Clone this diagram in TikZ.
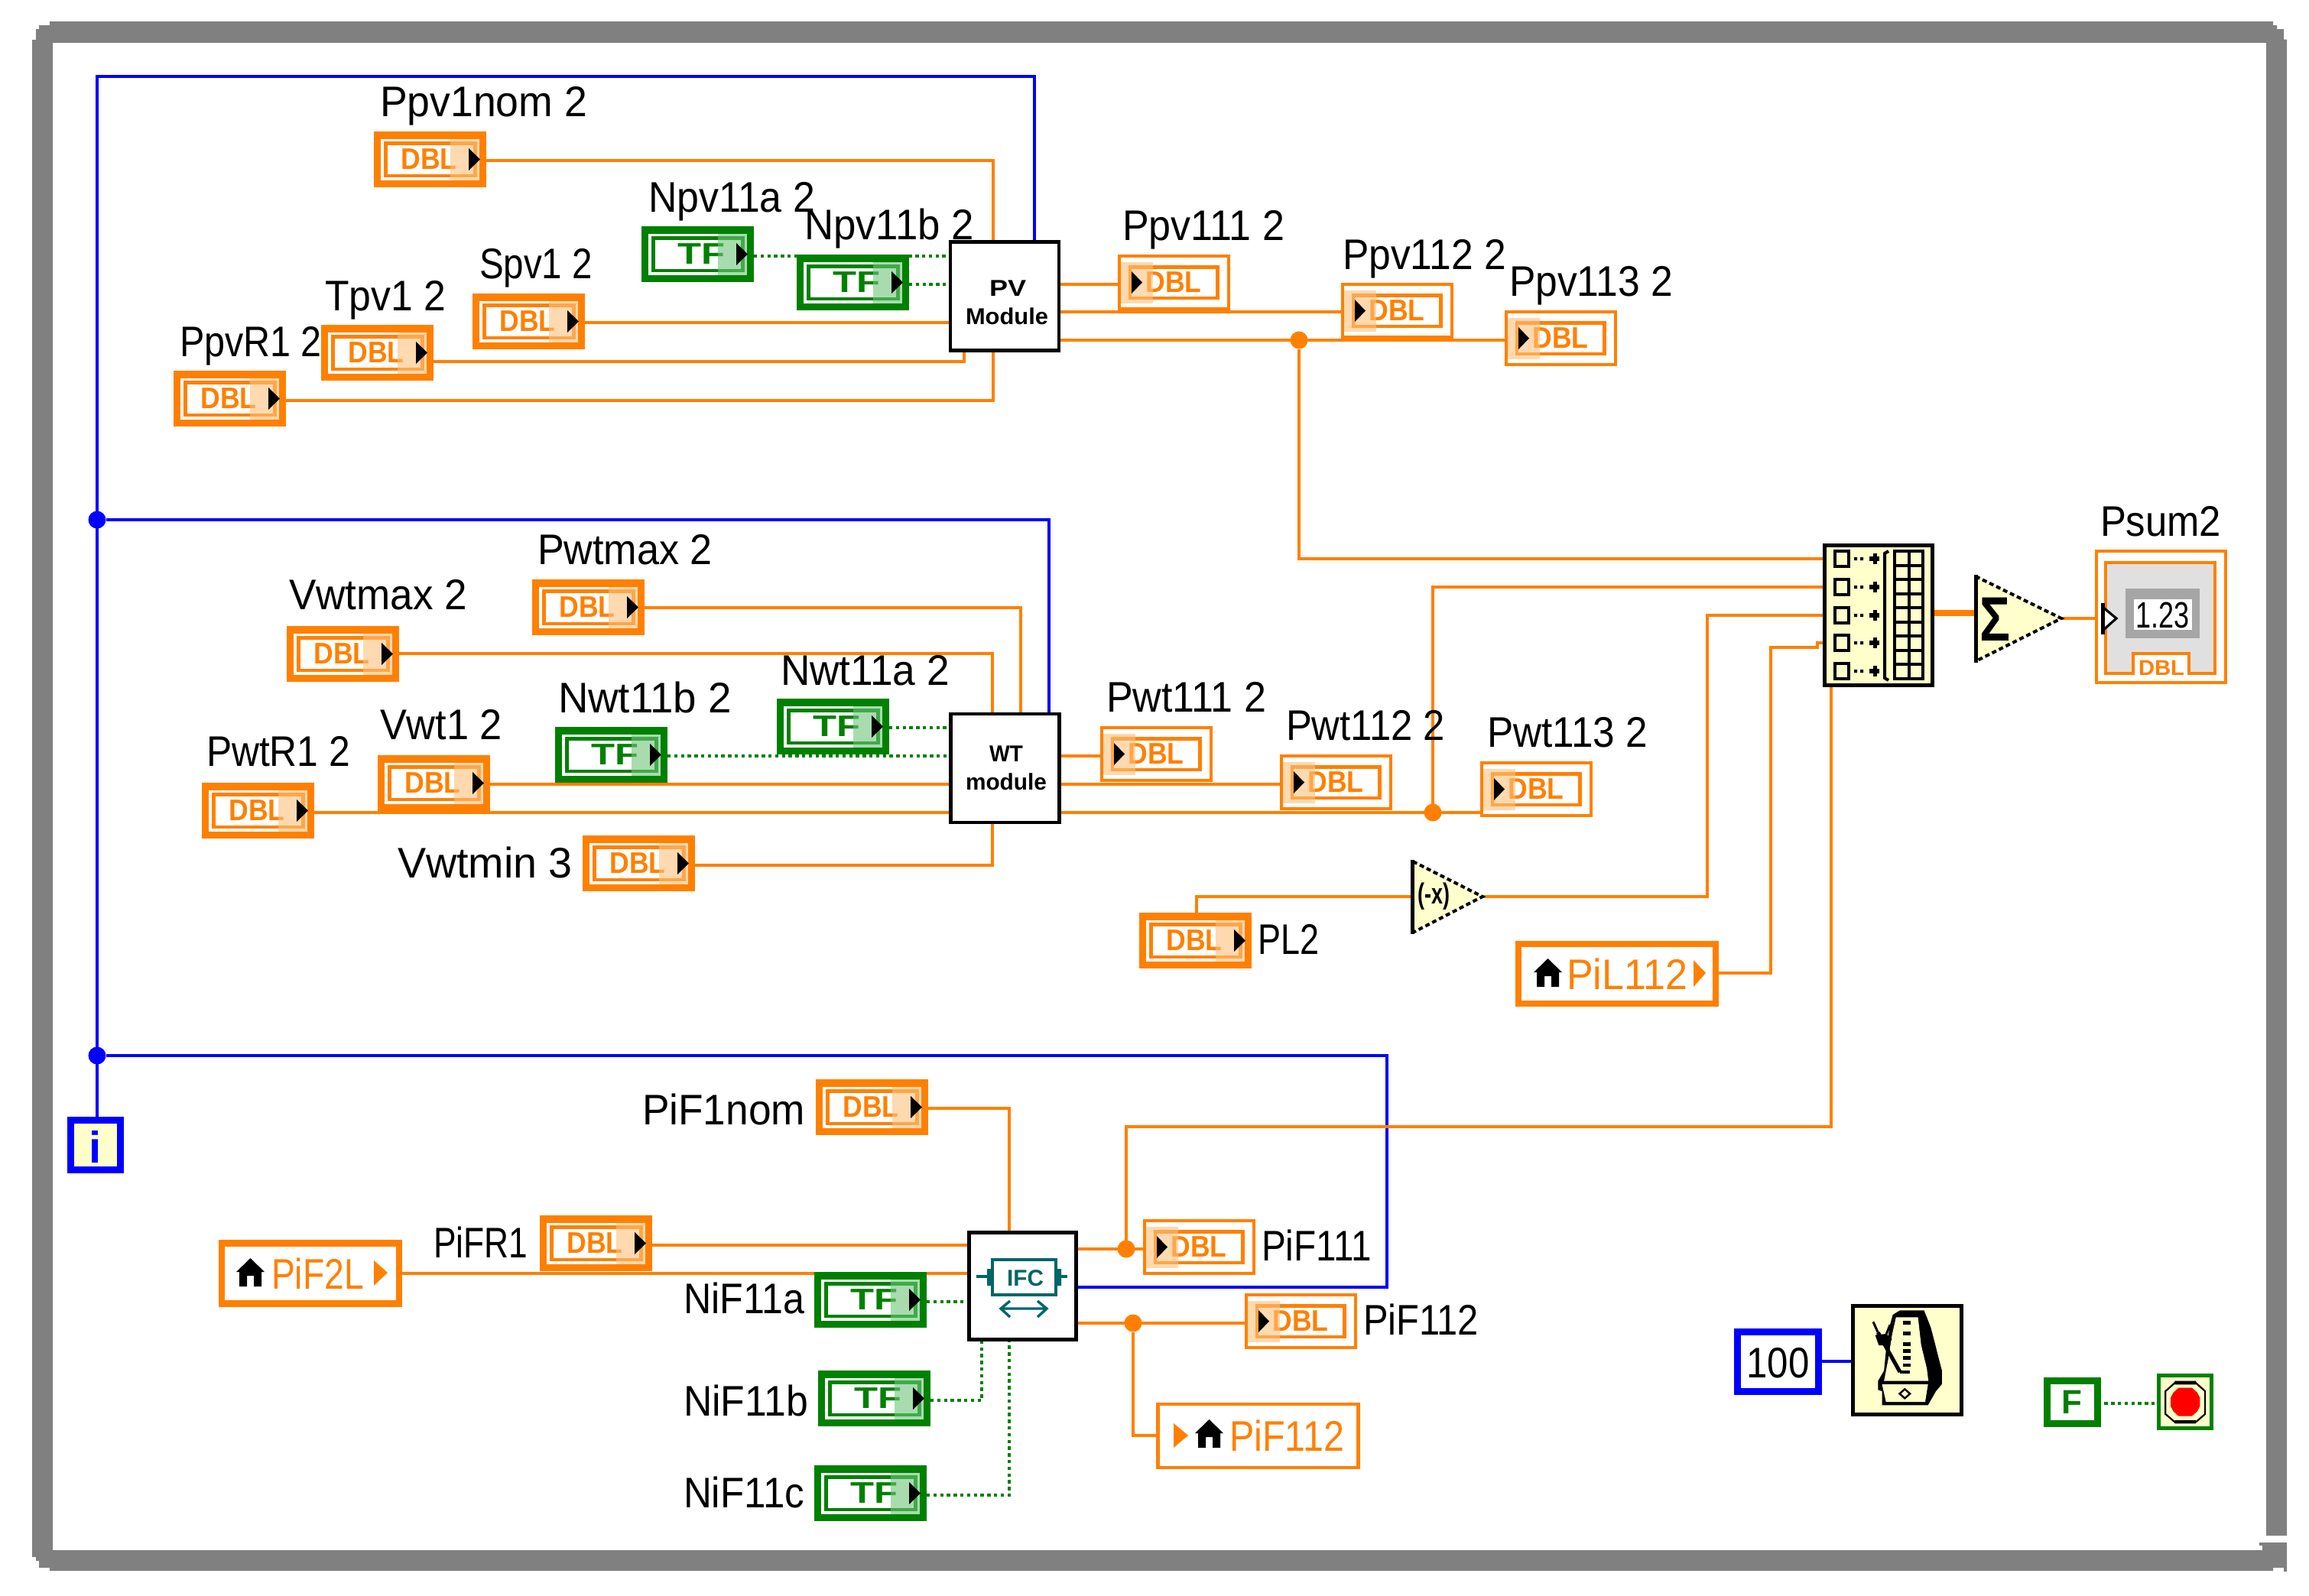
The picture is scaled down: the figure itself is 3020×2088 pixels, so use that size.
\documentclass[tikz,border=0pt]{standalone}
\usepackage{fontspec}
\usepackage{graphicx}
\setmainfont{Liberation Sans}
\usetikzlibrary{backgrounds}
\definecolor{lvorange}{HTML}{FF8000}
\definecolor{lvgreen}{HTML}{008000}
\definecolor{lvblue}{HTML}{0000FF}
\definecolor{lvgray}{HTML}{808080}
\definecolor{lvpale}{HTML}{FFFFCC}
\definecolor{lvteal}{HTML}{006666}
\definecolor{ovorange}{HTML}{FFC07B}
\definecolor{ovgreen}{HTML}{6EC57B}
\tikzset{
  hit/.style={inner sep=0,outer sep=0,draw=none},
  lab/.style={anchor=base west,inner sep=0,outer sep=0,font=\fontsize{28}{28}\selectfont},
  tag/.style={anchor=center,inner sep=0,outer sep=0,font=\bfseries\fontsize{19.5}{19.5}\selectfont},
  w/.style={draw=lvorange,line width=2.3pt},
  wthick/.style={draw=lvorange,line width=4.2pt},
  b/.style={draw=lvblue,line width=2.3pt},
  g/.style={draw=lvgreen,line width=2.2pt,dash pattern=on 2.2pt off 2.2pt},
  jct/.style={circle,inner sep=0,outer sep=0,minimum size=11.5pt},
  stair/.style={draw=black,line width=2pt,dash pattern=on 3pt off 2pt}
}
\newcounter{lb}
\newcommand{\lbl}[5][black]{\stepcounter{lb}\node[lab,text=#1] (lab\arabic{lb}) at (#2,#3) {\resizebox{\dimexpr#4pt/2\relax}{\height}{#5}};}
% control terminal: name x y colour overlay text textwidth textcentre
\newcommand{\ctl}[8]{%
 \node[hit,minimum width=73.5pt,minimum height=36.5pt] (#1) at (#2+73.5,#3+36.5) {};
 \begin{scope}[shift={(#2,#3)}]
  \fill[#4] (0,0) rectangle (147,73);
  \fill[white] (9,9.5) rectangle (138,64);
  \draw[#4,line width=2.3pt] (15.5,15.5) rectangle (132.5,58);
  \node[tag,text=#4] (#1t) at (#8,36.5) {\resizebox{\dimexpr#7pt/2\relax}{\height}{#6}};
  \fill[#5,fill opacity=.6] (100,9.5) rectangle (138,64);
  \fill[black] (124,22)--(139,36.5)--(124,51)--cycle;
 \end{scope}}
% indicator terminal
\newcommand{\ind}[3]{%
 \node[hit,minimum width=73.5pt,minimum height=36.5pt] (#1) at (#2+73.5,#3+36.5) {};
 \begin{scope}[shift={(#2,#3)}]
  \fill[white] (0,0) rectangle (147,73);
  \draw[lvorange,line width=2.2pt] (2.2,2.2) rectangle (144.8,70.8);
  \draw[lvorange,line width=2.3pt] (16,16.5) rectangle (130.5,57);
  \node[tag,text=lvorange] (#1t) at (73,36.5) {\resizebox{36.5pt}{\height}{DBL}};
  \fill[ovorange,fill opacity=.6] (4.4,9.5) rectangle (46,64);
  \fill[black] (18,22)--(32,36.5)--(18,51)--cycle;
 \end{scope}}
\newcommand{\dbl}[3]{\ctl{#1}{#2}{#3}{lvorange}{ovorange}{DBL}{73}{72}}
\newcommand{\tf}[3]{\ctl{#1}{#2}{#3}{lvgreen}{ovgreen}{TF}{62}{78}}
\newcommand{\house}[2]{\fill[black,shift={(#1,#2)}] (18.5,0)--(37,18)--(33,18)--(33,37)--(23,37)--(23,23)--(14,23)--(14,37)--(4,37)--(4,18)--(0,18)--cycle;}
\begin{document}
\begin{tikzpicture}[x=.5pt,y=-.5pt]
\useasboundingbox (0,0) rectangle (3020,2088);
% frame
\fill[lvgray] (65,28)--(2973,28)--(2973,33)--(2978,33)--(2978,38)--(2987,38)--(2987,51.5)--(2991,51.5)--(2991,2009)--(2964,2009)--(2964,56)--(69,56)--(69,2028)--(2959,2028)--(2959,2022)--(2955,2022)--(2955,2018)--(2991,2018)--(2991,2056)--(2987,2056)--(2987,2051)--(2973,2051)--(2973,2055)--(65,2055)--(65,2051)--(51,2051)--(51,2042)--(47,2042)--(47,2037)--(42,2037)--(42,52)--(47,52)--(47,38)--(51,38)--(51,33)--(65,33)--cycle;

% modules
\node[hit,minimum width=71pt,minimum height=71pt,fill=white,draw=black,line width=2.4pt] (PV) at (1314,387.5) {};
\node[hit,minimum width=71pt,minimum height=71pt,fill=white,draw=black,line width=2.4pt] (WT) at (1314.5,1005) {};
\node[hit,minimum width=70pt,minimum height=70pt,fill=white,draw=black,line width=2.4pt] (IFC) at (1337.5,1682.5) {};
\node[anchor=base,inner sep=0,font=\bfseries\fontsize{15}{15}\selectfont] (PVa) at (1318,387) {\resizebox{24pt}{\height}{PV}};
\node[anchor=base,inner sep=0,font=\bfseries\fontsize{15}{15}\selectfont] (PVb) at (1317,424) {\resizebox{54pt}{\height}{Module}};
\node[anchor=base,inner sep=0,font=\bfseries\fontsize{15}{15}\selectfont] (WTa) at (1316,996) {\resizebox{22pt}{\height}{WT}};
\node[anchor=base,inner sep=0,font=\bfseries\fontsize{15}{15}\selectfont] (WTb) at (1316,1033) {\resizebox{53pt}{\height}{module}};
% IFC icon
\draw[lvteal,line width=2pt] (1298,1648) rectangle (1381,1694);
\draw[lvteal,line width=2.2pt] (1277,1670)--(1297,1670) (1382,1670)--(1396,1670);
\fill[lvteal] (1291,1660) rectangle (1298,1682) (1381,1660) rectangle (1388,1682);
\node[anchor=base,inner sep=0,text=lvteal,font=\bfseries\fontsize{15}{15}\selectfont] (IFCt) at (1341,1682) {\resizebox{24pt}{\height}{IFC}};
\draw[lvteal,line width=1.7pt] (1309,1712)--(1369,1712) (1321,1702)--(1309,1712)--(1321,1723) (1357,1702)--(1369,1712)--(1357,1723);

% PV inputs
\dbl{Ppv1nom}{489}{172}
\tf{Npv11a}{839}{296}
\tf{Npv11b}{1042}{333}
\dbl{Spv1}{618}{384}
\dbl{Tpv1}{420}{425}
\dbl{PpvR1}{227}{485}
\lbl{497}{152}{271}{Ppv1nom 2}
\lbl{848}{277}{218}{Npv11a 2}
\lbl{1052}{313}{222}{Npv11b 2}
\lbl{627}{364}{148}{Spv1 2}
\lbl{425}{406}{158}{Tpv1 2}
\lbl{235}{466}{186}{PpvR1 2}
% PV outputs
\ind{Ppv111}{1462}{333}
\ind{Ppv112}{1754}{370}
\ind{Ppv113}{1968}{406}
\lbl{1468}{314}{212}{Ppv111 2}
\lbl{1756}{352}{214}{Ppv112 2}
\lbl{1974}{387}{214}{Ppv113 2}
% WT inputs
\dbl{Pwtmax}{696}{758}
\dbl{Vwtmax}{375}{819}
\tf{Nwt11a}{1016}{914}
\tf{Nwt11b}{726}{951}
\dbl{Vwt1}{494}{988}
\dbl{PwtR1}{264}{1024}
\dbl{Vwtmin}{762}{1093}
\lbl{703}{738}{229}{Pwtmax 2}
\lbl{378}{797}{233}{Vwtmax 2}
\lbl{1021}{896}{221}{Nwt11a 2}
\lbl{730}{932}{227}{Nwt11b 2}
\lbl{497}{967}{160}{Vwt1 2}
\lbl{270}{1002}{188}{PwtR1 2}
\lbl{520}{1148}{229}{Vwtmin 3}
% WT outputs
\ind{Pwt111}{1439}{950}
\ind{Pwt112}{1674}{987}
\ind{Pwt113}{1936}{996}
\lbl{1447}{931}{209}{Pwt111 2}
\lbl{1682}{968}{208}{Pwt112 2}
\lbl{1945}{977}{210}{Pwt113 2}

% PL2 and negate
\dbl{PL2}{1490}{1194}
\lbl{1645}{1248}{80}{PL2}
\node[hit,minimum width=47.5pt,minimum height=48.5pt] (Neg) at (1892.5,1173.5) {};
\fill[lvpale] (1847,1127)--(1939,1173)--(1847,1220)--cycle;
\path[stair] (1848,1127)--(1939,1173)--(1848,1220);
\draw[black,line width=2.5pt] (1847,1125)--(1847,1222);
\node[inner sep=0,font=\bfseries\fontsize{19}{19}\selectfont] (NegT) at (1875,1173) {\resizebox{21pt}{\height}{(-x)}};

% PiL112
\node[hit,minimum width=129pt,minimum height=39pt,fill=white,draw=lvorange,line width=4.2pt] (PiL112) at (2115,1274) {};
\house{2006}{1254}
\lbl[lvorange]{2049}{1294}{158}{PiL112}
\fill[lvorange] (2215,1256)--(2231,1273)--(2215,1291)--cycle;

% build array
\node[hit,minimum width=70.5pt,minimum height=91.5pt,fill=lvpale,draw=black,line width=2.5pt] (Build) at (2457,805) {};
\foreach \yy in {731,768,805,841,878}{
  \draw[black,line width=2pt] (2399.5,\yy-10) rectangle (2418,\yy+10);
  \fill[black] (2425,\yy-2) rectangle (2429,\yy+2) (2433,\yy-2) rectangle (2437,\yy+2);
  \fill[black] (2445,\yy-3) rectangle (2458,\yy+3);
  \fill[black] (2450,\yy-7) rectangle (2455,\yy+7);
}
\draw[black,line width=2pt] (2470,721)--(2465,724)--(2465,887)--(2470,890);
\draw[black,line width=2pt] (2478,721) rectangle (2515,888);
\draw[black,line width=2pt] (2496.5,721)--(2496.5,888);
\foreach \yy in {1,...,8}{\draw[black,line width=2pt] (2478,721+\yy*18.55)--(2515,721+\yy*18.55);}

% sum
\node[hit,minimum width=57pt,minimum height=57.5pt] (Sum) at (2639,809.5) {};
\fill[lvpale] (2584,754)--(2696,809)--(2584,865)--cycle;
\path[stair] (2584,754)--(2696,809)--(2584,865);
\draw[black,line width=2.5pt] (2584,752)--(2584,867);
\node[inner sep=0,font=\bfseries\fontsize{41}{41}\selectfont] (SumT) at (2609,810) {\resizebox{20pt}{\height}{Σ}};

% Psum2
\node[hit,minimum width=84.5pt,minimum height=86pt,fill=white,draw=lvorange,line width=2pt] (Psum) at (2826.5,807) {};
\fill[black!12] (2752,734) rectangle (2899,881);
\draw[lvorange,line width=2.2pt] (2790,881)--(2754,881)--(2754,736)--(2897,736)--(2897,881)--(2863,881)--(2863,855)--(2790,855)--cycle;
\fill[white] (2792,857) rectangle (2861,890);
\node[tag,text=lvorange,font=\bfseries\fontsize{14}{14}\selectfont] (PsumD) at (2827,874) {\resizebox{30pt}{\height}{DBL}};
\fill[black!35] (2780,770) rectangle (2877,835);
\fill[white] (2791,784) rectangle (2867,824);
\node[anchor=base,inner sep=0,font=\fontsize{24}{24}\selectfont] (PsumV) at (2828,821) {\resizebox{35pt}{\height}{1.23}};
\fill[white] (2750,794)--(2768,809)--(2750,825)--cycle;
\draw[black,line width=1.6pt] (2750,794)--(2768,809)--(2750,825);
\draw[black,line width=2.5pt] (2750,789)--(2750,830);
\lbl{2747}{701}{158}{Psum2}

% iteration terminal
\node[hit,minimum width=32.5pt,minimum height=32.5pt,fill=lvpale,draw=lvblue,line width=4.5pt] (Iter) at (125,1498) {};
\node[anchor=base,inner sep=0,text=lvblue,font=\bfseries\fontsize{29}{29}\selectfont] (IterT) at (125,1521) {i};

% interface section
\dbl{PiF1nom}{1067}{1412}
\lbl{840}{1471}{213}{PiF1nom}
\dbl{PiFR1}{706}{1590}
\lbl{567}{1645}{123}{PiFR1}
\node[hit,minimum width=116pt,minimum height=39.5pt,fill=white,draw=lvorange,line width=4.2pt] (PiF2L) at (406,1666) {};
\house{309}{1646}
\lbl[lvorange]{355}{1686}{121}{PiF2L}
\fill[lvorange] (489,1649)--(507,1665)--(489,1682)--cycle;
\tf{NiFa}{1065}{1664}
\tf{NiFb}{1070}{1793}
\tf{NiFc}{1065}{1917}
\lbl{894}{1718}{158}{NiF11a}
\lbl{894}{1852}{163}{NiF11b}
\lbl{894}{1972}{158}{NiF11c}
\ind{PiF111}{1495}{1595}
\ind{PiF112}{1628}{1692}
\lbl{1650}{1649}{144}{PiF111}
\lbl{1783}{1746}{151}{PiF112}
\node[hit,minimum width=131pt,minimum height=41.5pt,fill=white,draw=lvorange,line width=2.2pt] (PiF112g) at (1645.5,1878.5) {};
\fill[lvorange] (1535,1862)--(1554,1878)--(1535,1894)--cycle;
\house{1563}{1857}
\lbl[lvorange]{1608}{1898}{150}{PiF112}

% wait
\node[hit,minimum width=53pt,minimum height=39pt,fill=white,draw=lvblue,line width=4.5pt] (Hundred) at (2325.5,1781.5) {};
\node[anchor=base,inner sep=0,font=\fontsize{28}{28}\selectfont] (HundredT) at (2325.5,1802) {\resizebox{41pt}{\height}{100}};
\node[hit,minimum width=71pt,minimum height=71pt,fill=lvpale,draw=black,line width=2.5pt] (Metro) at (2494.5,1779) {};
\begin{scope}[shift={(2200,1680)},xscale=.523,yscale=.3333]
 \fill[black] (545,103)--(605,103)--(612,130)--(622,170)--(632,230)--(640,280)--(650,340)--(650,392)--(635,420)--(615,475)--(500,475)--(500,420)--(490,415)--(490,380)--(505,340)--(510,260)--(520,160)--(527,120)--cycle;
 \fill[lvpale] (535,130)--(590,130)--(598,240)--(612,330)--(616,380)--(505,380)--(515,300)--(525,200)--cycle;
 \fill[lvpale] (500,393)--(615,393)--(608,462)--(510,462)--cycle;
 \foreach \yy in {145,186,228,256,283,311}{\fill[black] (553,\yy) rectangle (572,\yy+14);}
 \fill[black] (545,340) rectangle (570,352);
 \draw[black,line width=1.5pt] (478,148)--(490,190);
 \draw[black,line width=2.5pt] (490,190)--(545,345);
 \draw[black,line width=1.5pt] (520,160)--(510,200);
 \fill[black] (483,200)--(510,195)--(525,215)--(515,240)--(492,240)--cycle;
 \draw[black,line width=1.2pt] (557,412)--(570,430)--(557,448)--(544,430)--cycle;
\end{scope}
\node[hit,minimum width=33pt,minimum height=28pt,fill=white,draw=lvgreen,line width=4.5pt] (Fbox) at (2710.5,1834.5) {};
\node[inner sep=0,text=lvgreen,font=\bfseries\fontsize{22}{22}\selectfont] (FboxT) at (2710,1834) {F};
\node[hit,minimum width=34.5pt,minimum height=34.5pt,fill=lvpale,draw=lvgreen,line width=2.5pt] (Stop) at (2858,1834) {};
\begin{scope}[shift={(2200,1680)},xscale=.523,yscale=.3333]
 \fill[red] (1242,407)--(1275,407)--(1288,425)--(1295,445)--(1295,480)--(1288,500)--(1275,518)--(1242,518)--(1229,500)--(1222,480)--(1222,445)--(1229,425)--cycle;
 \draw[black,line width=1.1pt] (1232,388)--(1285,388)--(1308,420)--(1308,510)--(1285,541)--(1232,541)--(1209,510)--(1209,420)--cycle;
 \fill[black] (1232,380) rectangle (1285,394) (1232,534) rectangle (1285,547);
\end{scope}

% junctions
\node[jct,fill=lvblue] (J1) at (127,680) {};
\node[jct,fill=lvblue] (J2) at (127,1381) {};
\node[jct,fill=lvorange] (J3) at (1699,445) {};
\node[jct,fill=lvorange] (J4) at (1874,1063) {};
\node[jct,fill=lvorange] (J5) at (1473,1634) {};
\node[jct,fill=lvorange] (J6) at (1482,1731) {};
\coordinate (TL) at (127,100);
\coordinate (BR) at (1814,1684);
\coordinate (C3) at (2233,805);
\coordinate (C4) at (2316,847);
\coordinate (C5) at (2377,847);
\coordinate (C6) at (2377,841);

\begin{scope}[on background layer]
\fill[white] (0,0) rectangle (3020,2088);
% blue
\draw[b] (Iter.north -| TL) -- (TL) -| (PV.north -| 1353,0);
\draw[b] (J1) -| (WT.north -| 1372,0);
\draw[b] (J2) -| (BR) -- (IFC.east |- BR);
\draw[b] (Hundred.east |- 0,1781) -- (Metro.west |- 0,1781);
% PV
\draw[w] (Ppv1nom.east |- 0,210) -| (PV.north -| 1299,0);
\draw[g] (Npv11a.east |- 0,335) -- (PV.west |- 0,335);
\draw[g] (Npv11b.east |- 0,372) -- (PV.west |- 0,372);
\draw[w] (Spv1.east |- 0,422) -- (PV.west |- 0,422);
\draw[w] (Tpv1.east |- 0,473) -| (PV.south -| 1261,0);
\draw[w] (PpvR1.east |- 0,524) -| (PV.south -| 1299,0);
\draw[w] (PV.east |- 0,372) -- (Ppv111.west |- 0,372);
\draw[w] (PV.east |- 0,408) -- (Ppv112.west |- 0,408);
\draw[w] (PV.east |- 0,445) -- (Ppv113.west |- 0,445);
\draw[w] (J3) |- (Build.west |- 0,731);
% WT
\draw[w] (Vwtmax.east |- 0,855) -| (WT.north -| 1298,0);
\draw[w] (Pwtmax.east |- 0,795) -| (WT.north -| 1335,0);
\draw[g] (Nwt11a.east |- 0,952) -- (WT.west |- 0,952);
\draw[g] (Nwt11b.east |- 0,989) -- (WT.west |- 0,989);
\draw[w] (Vwt1.east |- 0,1026) -- (WT.west |- 0,1026);
\draw[w] (PwtR1.east |- 0,1063) -- (WT.west |- 0,1063);
\draw[w] (Vwtmin.east |- 0,1132) -| (WT.south -| 1298,0);
\draw[w] (WT.east |- 0,989) -- (Pwt111.west |- 0,989);
\draw[w] (WT.east |- 0,1026) -- (Pwt112.west |- 0,1026);
\draw[w] (WT.east |- 0,1063) -- (Pwt113.west |- 0,1063);
\draw[w] (J4) |- (Build.west |- 0,768);
% load
\draw[w] (PL2.north -| 1565,0) |- (Neg.west |- 0,1173);
\draw[w] (Neg.east |- 0,1173) -| (C3) -- (Build.west |- C3);
\draw[w] (PiL112.east |- 0,1273) -| (C4) -- (C5) -- (C6) -- (Build.west |- C6);
% interface
\draw[w] (Build.south -| 2395,0) |- (J5 |- 0,1474) -- (J5);
\draw[w] (PiF1nom.east |- 0,1450) -| (IFC.north -| 1320,0);
\draw[w] (PiFR1.east |- 0,1629) -- (IFC.west |- 0,1629);
\draw[w] (PiF2L.east |- 0,1666) -- (IFC.west |- 0,1666);
\draw[g] (NiFa.east |- 0,1703) -- (IFC.west |- 0,1703);
\draw[g] (NiFb.east |- 0,1832) -| (IFC.south -| 1284,0);
\draw[g] (NiFc.east |- 0,1956) -| (IFC.south -| 1320,0);
\draw[w] (IFC.east |- J5) -- (PiF111.west |- J5);
\draw[w] (IFC.east |- J6) -- (PiF112.west |- J6);
\draw[w] (J6) |- (PiF112g.west |- 0,1878);
% sum
\draw[wthick] (Build.east |- 0,802) -- (Sum.west |- 0,802);
\draw[w] (Sum.east |- 0,809) -- (Psum.west |- 0,809);
\draw[g] (Fbox.east |- 0,1836) -- (Stop.west |- 0,1836);
\end{scope}
\end{tikzpicture}
\end{document}
